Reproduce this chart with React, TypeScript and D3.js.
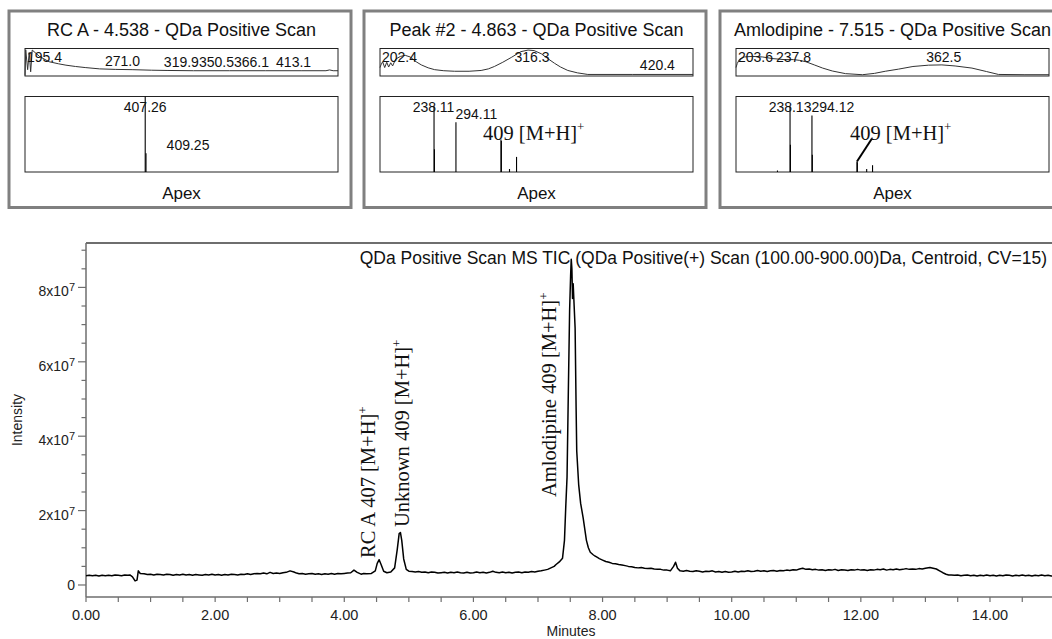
import React from "react";
import * as d3 from "d3";

const SANS = "'Liberation Sans', Arial, Helvetica, sans-serif";
const SERIF = "'Liberation Serif', 'Times New Roman', Times, serif";

// ---------------- Main TIC chromatogram: [time (min), intensity (x1e7 counts)]
const ticTrace: [number, number][] = [
  [0.0, 0.25], [0.05, 0.26], [0.1, 0.25], [0.15, 0.26], [0.2, 0.24], [0.25, 0.26], [0.3, 0.25], [0.35, 0.26],
  [0.4, 0.25], [0.45, 0.27], [0.5, 0.26], [0.55, 0.25], [0.6, 0.27], [0.65, 0.26], [0.68, 0.27],
  [0.72, 0.22], [0.76, 0.11], [0.79, 0.13], [0.81, 0.38], [0.84, 0.31],
  [0.9, 0.3], [0.95, 0.28], [1.0, 0.29], [1.05, 0.27], [1.1, 0.29], [1.15, 0.28], [1.2, 0.27], [1.25, 0.29],
  [1.3, 0.28], [1.35, 0.26], [1.4, 0.28], [1.45, 0.27], [1.5, 0.29], [1.55, 0.27], [1.6, 0.28], [1.65, 0.26],
  [1.7, 0.28], [1.75, 0.27], [1.8, 0.26], [1.85, 0.28], [1.9, 0.27], [1.95, 0.29], [2.0, 0.27], [2.05, 0.28],
  [2.1, 0.26], [2.15, 0.28], [2.2, 0.27], [2.25, 0.29], [2.3, 0.28], [2.35, 0.27], [2.4, 0.29], [2.45, 0.28],
  [2.5, 0.3], [2.55, 0.28], [2.6, 0.3], [2.65, 0.31], [2.7, 0.3], [2.75, 0.32], [2.8, 0.3], [2.85, 0.34],
  [2.9, 0.31], [2.95, 0.32], [3.0, 0.31], [3.05, 0.33], [3.1, 0.34], [3.16, 0.38], [3.22, 0.35], [3.26, 0.32],
  [3.3, 0.3], [3.35, 0.31], [3.4, 0.29], [3.45, 0.3], [3.5, 0.31], [3.55, 0.29], [3.6, 0.3], [3.65, 0.28],
  [3.7, 0.3], [3.75, 0.29], [3.8, 0.31], [3.85, 0.29], [3.9, 0.31], [3.95, 0.3], [4.0, 0.31], [4.05, 0.32],
  [4.1, 0.33], [4.15, 0.4], [4.2, 0.34], [4.26, 0.29], [4.3, 0.31], [4.35, 0.3], [4.42, 0.31], [4.48, 0.38],
  [4.51, 0.58], [4.54, 0.68], [4.57, 0.55], [4.61, 0.37], [4.66, 0.33], [4.72, 0.35], [4.78, 0.46], [4.82, 0.95],
  [4.85, 1.38], [4.87, 1.41], [4.89, 1.2], [4.92, 0.7], [4.96, 0.42],
  [5.0, 0.37], [5.05, 0.36], [5.1, 0.35], [5.15, 0.36], [5.2, 0.34], [5.25, 0.35], [5.3, 0.33], [5.35, 0.35],
  [5.4, 0.34], [5.45, 0.32], [5.5, 0.33], [5.55, 0.34], [5.6, 0.32], [5.65, 0.34], [5.7, 0.33], [5.75, 0.35],
  [5.8, 0.33], [5.85, 0.32], [5.9, 0.34], [5.95, 0.32], [6.0, 0.33], [6.05, 0.35], [6.1, 0.33], [6.15, 0.34],
  [6.2, 0.32], [6.25, 0.34], [6.3, 0.37], [6.35, 0.34], [6.4, 0.33], [6.45, 0.35], [6.5, 0.33], [6.55, 0.34],
  [6.6, 0.32], [6.65, 0.34], [6.7, 0.35], [6.75, 0.33], [6.8, 0.35], [6.85, 0.34], [6.9, 0.36], [6.95, 0.35],
  [7.0, 0.37], [7.05, 0.38], [7.1, 0.4], [7.15, 0.42], [7.2, 0.46], [7.25, 0.5], [7.28, 0.55], [7.33, 0.62],
  [7.38, 0.72], [7.41, 1.2], [7.43, 2.1], [7.45, 2.9], [7.47, 5.2], [7.49, 7.4], [7.505, 8.3], [7.515, 8.76],
  [7.525, 8.5], [7.535, 7.7], [7.545, 8.1], [7.56, 7.5], [7.575, 6.9], [7.59, 4.8], [7.6, 3.6], [7.63, 2.7],
  [7.66, 2.2], [7.7, 1.8], [7.75, 1.2], [7.78, 1.0],
  [7.81, 0.88], [7.85, 0.82], [7.88, 0.78], [7.92, 0.74], [7.95, 0.71], [8.0, 0.67], [8.05, 0.63], [8.1, 0.61],
  [8.15, 0.58], [8.2, 0.57], [8.25, 0.55], [8.3, 0.54], [8.35, 0.52], [8.4, 0.5], [8.45, 0.49], [8.5, 0.47],
  [8.55, 0.46], [8.6, 0.47], [8.65, 0.45], [8.7, 0.44], [8.75, 0.45], [8.8, 0.43], [8.85, 0.42], [8.9, 0.42],
  [8.95, 0.4], [9.0, 0.4], [9.05, 0.38], [9.1, 0.5], [9.13, 0.61], [9.16, 0.45],
  [9.2, 0.38], [9.25, 0.37], [9.3, 0.39], [9.35, 0.37], [9.4, 0.36], [9.45, 0.38], [9.5, 0.37], [9.55, 0.35],
  [9.6, 0.37], [9.65, 0.36], [9.7, 0.38], [9.75, 0.35], [9.8, 0.36], [9.85, 0.34], [9.9, 0.36], [9.95, 0.34],
  [10.0, 0.35], [10.05, 0.37], [10.1, 0.35], [10.15, 0.37], [10.2, 0.36], [10.25, 0.38], [10.3, 0.36], [10.35, 0.37],
  [10.4, 0.39], [10.45, 0.37], [10.5, 0.38], [10.55, 0.36], [10.6, 0.38], [10.65, 0.39], [10.7, 0.37], [10.75, 0.39],
  [10.8, 0.38], [10.85, 0.4], [10.9, 0.39], [10.95, 0.41], [11.0, 0.4], [11.05, 0.43], [11.1, 0.45], [11.15, 0.42],
  [11.2, 0.43], [11.25, 0.41], [11.3, 0.42], [11.35, 0.4], [11.4, 0.41], [11.45, 0.39], [11.5, 0.41], [11.55, 0.4],
  [11.6, 0.42], [11.65, 0.39], [11.7, 0.41], [11.75, 0.4], [11.8, 0.39], [11.85, 0.41], [11.9, 0.4], [11.95, 0.42],
  [12.0, 0.4], [12.05, 0.41], [12.1, 0.39], [12.15, 0.41], [12.2, 0.4], [12.25, 0.42], [12.3, 0.41], [12.35, 0.43],
  [12.4, 0.4], [12.45, 0.42], [12.5, 0.41], [12.55, 0.43], [12.6, 0.41], [12.65, 0.42], [12.7, 0.44], [12.75, 0.42],
  [12.8, 0.43], [12.85, 0.42], [12.9, 0.44], [12.95, 0.43], [13.0, 0.45], [13.07, 0.47], [13.12, 0.45], [13.17, 0.43],
  [13.22, 0.38], [13.27, 0.33], [13.32, 0.29], [13.36, 0.27],
  [13.4, 0.27], [13.45, 0.26], [13.5, 0.27], [13.55, 0.25], [13.6, 0.26], [13.65, 0.27], [13.7, 0.25], [13.75, 0.26],
  [13.8, 0.24], [13.85, 0.26], [13.9, 0.25], [13.95, 0.27], [14.0, 0.25], [14.05, 0.26], [14.1, 0.24], [14.15, 0.26],
  [14.2, 0.25], [14.25, 0.27], [14.3, 0.26], [14.35, 0.24], [14.4, 0.26], [14.45, 0.25], [14.5, 0.27], [14.55, 0.25],
  [14.6, 0.26], [14.65, 0.24], [14.7, 0.26], [14.75, 0.25], [14.8, 0.27], [14.85, 0.25], [14.9, 0.26], [14.95, 0.24],
  [15.0, 0.26],
];

const xTickValues = [0, 2, 4, 6, 8, 10, 12, 14];
const xTickLabels = ["0.00", "2.00", "4.00", "6.00", "8.00", "10.00", "12.00", "14.00"];
const yTickValues = [0, 2, 4, 6, 8];
const yTickMantissas = ["0", "2", "4", "6", "8"];
const chartTitle = "QDa Positive Scan MS TIC (QDa Positive(+) Scan (100.00-900.00)Da, Centroid, CV=15)";

const peakLabelTimes = [4.538, 4.863, 7.515];
const peakLabelTexts = ["RC A 407 [M+H]", "Unknown 409 [M+H]", "Amlodipine 409 [M+H]"];

// ---------------- Spectrum panels
const panelTitles = [
  "RC A - 4.538 - QDa Positive Scan",
  "Peak #2 - 4.863 - QDa Positive Scan",
  "Amlodipine - 7.515 - QDa Positive Scan",
];

// upper strip: [wavelength nm, relative response 0..1]
const uvTrace1: [number, number][] = [
  [190, 0.0], [190.6, 0.97], [192.2, 0.22], [193.5, 0.87], [194.7, 0.14], [196.0, 0.96], [202, 0.72], [210, 0.52],
  [218, 0.44], [224, 0.39], [232, 0.34], [240, 0.3], [252, 0.25], [265, 0.23], [279, 0.22], [295, 0.2],
  [308, 0.19], [330, 0.18], [360, 0.18], [390, 0.18], [420, 0.18], [440, 0.18], [443, 0.21], [446, 0.18], [450, 0.18],
];
const uvTrace2: [number, number][] = [
  [190, 0.3], [190.8, 0.4], [192.2, 0.52], [193.9, 0.3], [195.6, 0.5], [197.2, 0.32], [198.9, 0.48], [200.5, 0.36],
  [203, 0.62], [207, 0.72], [211, 0.76], [215, 0.7], [220, 0.52], [224.3, 0.4], [230, 0.29], [235.4, 0.22],
  [243, 0.18], [252, 0.16], [264, 0.16], [274, 0.19], [280, 0.25], [285, 0.34], [292, 0.5], [299, 0.68],
  [307, 0.9], [313, 0.96], [318, 0.94], [324, 0.82], [329, 0.65], [335, 0.46], [340, 0.32], [346, 0.19],
  [354, 0.1], [362.6, 0.04], [400, 0.04], [450, 0.04],
];
const uvTrace3: [number, number][] = [
  [190, 0.3], [191, 0.45], [193, 0.62], [197, 0.7], [203.6, 0.72], [212, 0.7], [220, 0.64], [230, 0.6],
  [237.8, 0.6], [243, 0.57], [248, 0.52], [255, 0.4], [262, 0.28], [270, 0.17], [281, 0.07], [295, 0.03],
  [305, 0.08], [314, 0.16], [325, 0.24], [337, 0.34], [350, 0.39], [361, 0.4], [372, 0.36], [386, 0.28],
  [398, 0.15], [408, 0.04], [430, 0.03], [450, 0.03],
];
const uvLabels1 = [195.4, 271.0, 319.9, 350.5, 366.1, 413.1];
const uvLabels2 = [202.4, 316.3, 420.4];
const uvLabels3 = [203.6, 237.8, 362.5];

// lower strip: [m/z, relative intensity %]
const msSticks1: [number, number][] = [[407.26, 100], [409.25, 25]];
const msSticks2: [number, number][] = [
  [238.11, 87], [239.1, 30], [294.11, 66], [409.2, 43], [410.2, 41], [431, 4], [449, 20],
];
const msSticks3: [number, number][] = [
  [206, 2], [238.13, 87], [239.1, 36], [294.12, 75], [295.1, 23], [409.2, 14], [410.2, 13], [434, 4], [449, 9],
];
const msLabels1 = [407.26, 409.25];
const msLabels2 = [238.11, 294.11];
const msLabels3 = [238.13, 294.12];
const adductText = "409 [M+H]";

const panels = [
  { title: panelTitles[0], uv: uvTrace1, uvLabels: uvLabels1, ms: msSticks1, msLabels: msLabels1, adduct: null as null | { dx: number; pointer: boolean } },
  { title: panelTitles[1], uv: uvTrace2, uvLabels: uvLabels2, ms: msSticks2, msLabels: msLabels2, adduct: { dx: -18, pointer: false } },
  { title: panelTitles[2], uv: uvTrace3, uvLabels: uvLabels3, ms: msSticks3, msLabels: msLabels3, adduct: { dx: -7, pointer: true } },
];
const panelLefts = [9, 364, 720];

function numWidth(s: string, size: number) {
  let w = 0;
  for (const ch of s) w += ch === "." ? 0.278 : 0.556;
  return w * size;
}

function placeLabels(values: number[], scale: (v: number) => number, digits: number, minX: number, size: number) {
  let prevEnd = -Infinity;
  return values.map((v) => {
    const s = v.toFixed(digits);
    const w = numWidth(s, size);
    let start = scale(v) - w / 2;
    if (start < prevEnd + 2) start = prevEnd;
    start = Math.max(start, minX);
    prevEnd = start + w;
    return { v, s, start };
  });
}

function Panel({ left, p }: { left: number; p: (typeof panels)[number] }) {
  const boxL = left + 16;
  const boxR = left + 329;
  const uvTop = 48.5, uvBot = 76;
  const msTop = 96.5, msBot = 172;
  const xUv = d3.scaleLinear().domain([190, 450]).range([boxL, boxR]);
  const yUv = d3.scaleLinear().domain([0, 1]).range([uvBot - 0.5, uvTop + 0.5]);
  const xMs = d3.scaleLinear().domain([100, 900]).range([boxL, boxR]);
  const yMs = d3.scaleLinear().domain([0, 100]).range([msBot, msTop]);
  const uvLine = d3.line<[number, number]>().x((d) => xUv(d[0])).y((d) => yUv(d[1]));
  const uvInterp = d3.scaleLinear().domain(p.uv.map((d) => d[0])).range(p.uv.map((d) => d[1])).clamp(true);
  const uvLab = placeLabels(p.uvLabels, xUv, 1, boxL + 2, 14);
  const msInt = (mz: number) => {
    const s = p.ms.find((d) => Math.abs(d[0] - mz) < 0.01);
    return s ? s[1] : 0;
  };
  const msLab = placeLabels(p.msLabels, xMs, 2, boxL + 1, 14);
  const cx = (boxL + boxR) / 2;
  const x409 = xMs(409.2);
  const yTop409 = yMs(p.ms.find((d) => Math.abs(d[0] - 409.2) < 0.01)?.[1] ?? 0);
  return (
    <g>
      <rect x={left} y={11} width={342} height={196.5} fill="#fff" stroke="#808080" strokeWidth={3} />
      <text x={cx} y={35.5} textAnchor="middle" fontFamily={SANS} fontSize={18} fill="#111">{p.title}</text>
      <rect x={boxL} y={uvTop} width={boxR - boxL} height={uvBot - uvTop} fill="none" stroke="#222" strokeWidth={1} />
      <path d={uvLine(p.uv) || ""} fill="none" stroke="#333" strokeWidth={1} />
      {uvLab.map((l, i) => {
        const cy = yUv(uvInterp(l.v));
        const base = Math.min(73, Math.max(62, cy - 4));
        return (
          <text key={i} x={l.start} y={base} fontFamily={SANS} fontSize={14} fill="#111">{l.s}</text>
        );
      })}
      <rect x={boxL} y={msTop} width={boxR - boxL} height={msBot - msTop} fill="none" stroke="#222" strokeWidth={1} />
      {p.ms.map((d, i) => (
        <line key={i} x1={xMs(d[0])} x2={xMs(d[0])} y1={msBot} y2={yMs(d[1])} stroke="#000" strokeWidth={1.1} />
      ))}
      {msLab.map((l, i) => {
        const top = yMs(msInt(l.v));
        const base = Math.max(112, top - 3);
        return (
          <text key={i} x={l.start} y={base} fontFamily={SANS} fontSize={14} fill="#111">{l.s}</text>
        );
      })}
      {p.adduct && (
        <g>
          <text x={x409 + p.adduct.dx} y={140} fontFamily={SERIF} fontSize={20.5} fill="#111">
            {adductText}
            <tspan fontSize={13} dy={-9}>+</tspan>
          </text>
          {p.adduct.pointer && (
            <line x1={x409} y1={yTop409} x2={x409 + 15} y2={yTop409 - 23} stroke="#000" strokeWidth={2} />
          )}
        </g>
      )}
      <text x={cx} y={199} textAnchor="middle" fontFamily={SANS} fontSize={17} fill="#111">Apex</text>
    </g>
  );
}

export default function App() {
  const W = 1052, H = 639;
  const plotL = 86, plotT = 243, plotB = 597;
  const x = d3.scaleLinear().domain([0, 15]).range([plotL, plotL + 15 * 64.57]);
  const y = d3.scaleLinear().domain([-0.323, 9.194]).range([plotB, plotT]);
  const line = d3.line<[number, number]>().x((d) => x(d[0])).y((d) => y(d[1]));
  const xMinor = d3.range(0, 15.001, 0.5);
  const yMinor = d3.range(0, 9.001, 0.5);
  const axisColor = "#6e6e6e";
  const labelDx = [-4, 8.5, -15.5];
  const labelY0 = [558, 527, 497];

  return (
    <svg width={W} height={H} style={{ position: "absolute", left: 0, top: 0, display: "block", background: "#fff" }}>
      <rect x={0} y={0} width={W} height={H} fill="#fff" />
      {panels.map((p, i) => (
        <Panel key={i} left={panelLefts[i]} p={p} />
      ))}

      {/* main chart frame */}
      <line x1={plotL} x2={W} y1={plotT} y2={plotT} stroke={axisColor} strokeWidth={2} />
      <line x1={plotL} x2={plotL} y1={plotT} y2={plotB} stroke={axisColor} strokeWidth={1.5} />
      <line x1={plotL} x2={W} y1={plotB} y2={plotB} stroke={axisColor} strokeWidth={1.5} />

      {xMinor.map((t, i) => (
        <line key={i} x1={x(t)} x2={x(t)} y1={plotB} y2={plotB + 5} stroke={axisColor} strokeWidth={1.2} />
      ))}
      {xTickValues.map((t, i) => (
        <text key={i} x={x(t)} y={619.5} textAnchor="middle" fontFamily={SANS} fontSize={14.5} fill="#222">
          {xTickLabels[i]}
        </text>
      ))}
      {yMinor.map((v, i) => (
        <line key={i} x1={plotL - (v % 2 === 0 ? 8 : 4.5)} x2={plotL} y1={y(v)} y2={y(v)} stroke={axisColor} strokeWidth={1.2} />
      ))}
      {yTickValues.map((v, i) =>
        v === 0 ? (
          <text key={i} x={75} y={y(v) + 5} textAnchor="end" fontFamily={SANS} fontSize={14} fill="#222">
            {yTickMantissas[i]}
          </text>
        ) : (
          <text key={i} x={75} y={y(v) + 9} textAnchor="end" fontFamily={SANS} fontSize={14} fill="#222">
            {yTickMantissas[i]}x10
            <tspan fontSize={11} dy={-5}>7</tspan>
          </text>
        )
      )}
      <text transform={`translate(21.5,420) rotate(-90)`} textAnchor="middle" fontFamily={SANS} fontSize={14} fill="#222">
        Intensity
      </text>
      <text x={571} y={636} textAnchor="middle" fontFamily={SANS} fontSize={14} fill="#222">Minutes</text>

      <path d={line(ticTrace) || ""} fill="none" stroke="#000" strokeWidth={1.5} strokeLinejoin="round" />

      <text x={1047} y={264} textAnchor="end" fontFamily={SANS} fontSize={17.5} fill="#111">{chartTitle}</text>

      {peakLabelTimes.map((t, i) => (
        <text
          key={i}
          transform={`translate(${x(t) + labelDx[i]},${labelY0[i]}) rotate(-90)`}
          fontFamily={SERIF}
          fontSize={20.5}
          fill="#111"
        >
          {peakLabelTexts[i]}
          <tspan fontSize={13} dy={-8}>+</tspan>
        </text>
      ))}
    </svg>
  );
}
